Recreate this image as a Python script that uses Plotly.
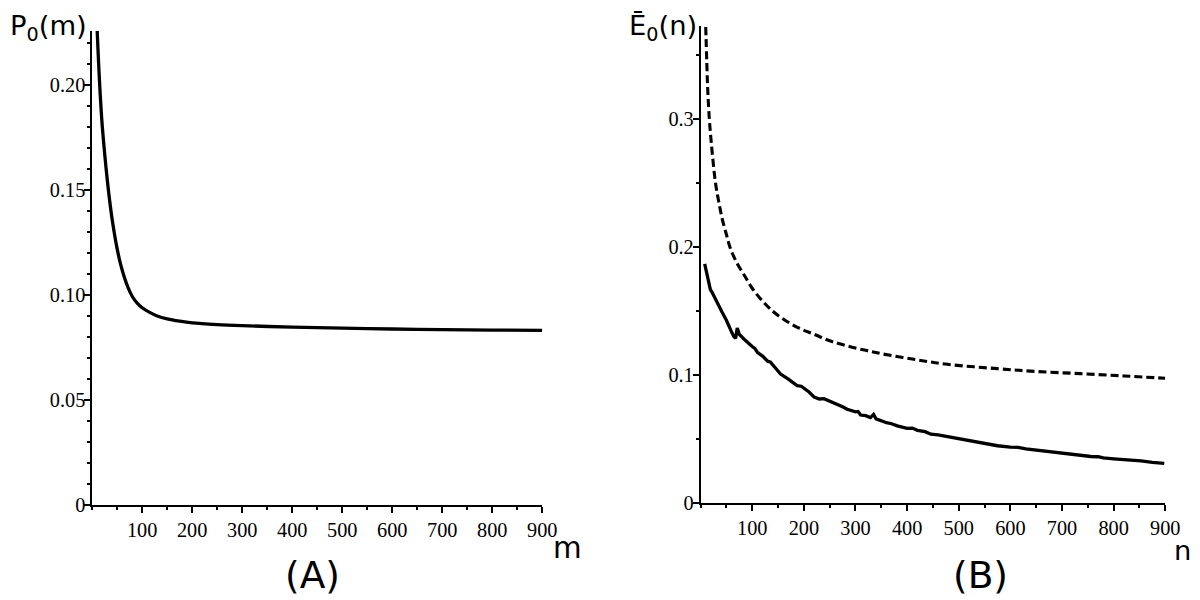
import plotly.graph_objects as go

# panel A: P0(m)
m_vals = [10, 12, 14, 16, 18, 20, 24, 28, 32, 36, 40, 45, 50, 56, 64, 72, 80, 90, 100,
          115, 130, 150, 175, 200, 250, 300, 400, 500, 600, 700, 800, 900]
p0_vals = [0.226, 0.215, 0.205, 0.196, 0.188, 0.181, 0.170, 0.160, 0.151, 0.143, 0.136,
           0.1285, 0.122, 0.1155, 0.1088, 0.1035, 0.0995, 0.0962, 0.0940, 0.0918, 0.0901,
           0.0887, 0.0876, 0.0868, 0.0860, 0.0855, 0.0848, 0.0843, 0.0839, 0.0836, 0.0834, 0.0833]

# panel B: dashed curve
n_dash = [10, 12, 14, 17, 20, 24, 29, 35, 42, 50, 57, 70, 85, 100, 120, 140, 160, 190, 220,
          250, 285, 320, 350, 413, 478, 575, 650, 736, 820, 900]
e_dash = [0.372, 0.345, 0.322, 0.300, 0.285, 0.268, 0.250, 0.236, 0.222, 0.210, 0.200, 0.188,
          0.178, 0.168, 0.158, 0.150, 0.144, 0.137, 0.132, 0.127, 0.1228, 0.1195, 0.1169,
          0.1125, 0.1086, 0.1052, 0.1030, 0.1013, 0.0995, 0.0977]

# panel B: solid (noisy) curve
n_solid = [8, 12, 16, 19, 22, 28, 35, 42, 50, 56, 61, 65, 68, 71, 75, 85, 95, 100, 105, 110,
           120, 130, 135, 140, 155, 170, 180, 187, 195, 200, 210, 220, 230, 239, 250, 265, 275,
           284, 300, 305, 310, 320, 329, 335, 340, 360, 370, 381, 400, 410, 420, 435, 446, 460,
           480, 495, 510, 540, 562, 575, 600, 615, 630, 659, 690, 705, 720, 756, 770, 780, 800,
           830, 853, 875, 898]
e_solid = [0.187, 0.180, 0.171, 0.167, 0.165, 0.160, 0.154, 0.149, 0.143, 0.137, 0.133, 0.130,
           0.129, 0.137, 0.132, 0.128, 0.124, 0.1225, 0.121, 0.118, 0.115, 0.111, 0.1105, 0.108,
           0.101, 0.097, 0.0945, 0.092, 0.0915, 0.090, 0.087, 0.083, 0.0815, 0.0818, 0.080, 0.077,
           0.0755, 0.0735, 0.0715, 0.0718, 0.069, 0.0685, 0.067, 0.0695, 0.066, 0.063, 0.0622,
           0.0605, 0.0585, 0.0588, 0.057, 0.056, 0.054, 0.0535, 0.052, 0.0508, 0.0496, 0.048,
           0.0462, 0.045, 0.044, 0.0438, 0.0425, 0.041, 0.0395, 0.0392, 0.038, 0.0366, 0.0364,
           0.0355, 0.0348, 0.034, 0.0332, 0.032, 0.0312]

x_ticks = [100, 200, 300, 400, 500, 600, 700, 800, 900]
ya_ticks = [0, 0.05, 0.10, 0.15, 0.20]
ya_text = ["0", "0.05", "0.10", "0.15", "0.20"]
yb_ticks = [0, 0.1, 0.2, 0.3]
yb_text = ["0", "0.1", "0.2", "0.3"]

# the page has an 8px body margin and gets shrunk a little in the snapshot (1216 -> 1200),
# so target pixel positions are mapped back into figure coordinates
W, H, OFF = 1200, 592, 8
K = 1216 / 1200


def fx(px):
    return (px * K - OFF) / W


def fy(py):
    return 1 - (py * K - OFF) / H


def fs(size):
    return round(size * K, 1)


fig = go.Figure()
fig.add_trace(go.Scatter(x=m_vals, y=p0_vals, mode="lines",
                         line=dict(color="black", width=3.3, shape="spline", smoothing=0.8),
                         xaxis="x", yaxis="y"))
fig.add_trace(go.Scatter(x=n_dash, y=e_dash, mode="lines",
                         line=dict(color="black", width=3.1, dash="8px,4px", shape="spline"),
                         xaxis="x2", yaxis="y2"))
fig.add_trace(go.Scatter(x=n_solid, y=e_solid, mode="lines", line=dict(color="black", width=3.3),
                         xaxis="x2", yaxis="y2"))

tickfont = dict(family="Liberation Serif", size=fs(20), color="black")
common = dict(showline=True, linecolor="black", linewidth=1.5, ticks="outside", tickcolor="black",
              tickwidth=1.5, ticklen=6, showgrid=False, zeroline=False, tickfont=tickfont,
              tickmode="array", fixedrange=True)


def minor(step):
    return dict(tick0=0, dtick=step, ticks="outside", ticklen=3, tickcolor="black", tickwidth=1.5)


fig.update_layout(
    width=W, height=H,
    margin=dict(l=0, r=0, t=0, b=0),
    paper_bgcolor="white", plot_bgcolor="white",
    showlegend=False,
    xaxis=dict(domain=[fx(92), fx(541.8)], range=[0, 900], tickvals=x_ticks, anchor="y",
               ticklabelstandoff=0, minor=minor(50), **common),
    yaxis=dict(domain=[fy(508), fy(31)], range=[0, 0.2257], tickvals=ya_ticks,
               ticktext=ya_text, anchor="x", ticklabelstandoff=-5, minor=minor(0.01), **common),
    xaxis2=dict(domain=[fx(700), fx(1164.4)], range=[0, 900], tickvals=x_ticks, anchor="y2",
                ticklabelstandoff=0, minor=minor(50), **common),
    yaxis2=dict(domain=[fy(506), fy(26)], range=[0, 0.3728], tickvals=yb_ticks,
                ticktext=yb_text, anchor="x2", ticklabelstandoff=-5, minor=minor(0.05), **common),
)

label_font = dict(family="DejaVu Sans", size=fs(27), color="black")
fig.add_annotation(text="P<sub>0</sub>(m)", xref="paper", yref="paper", x=0, y=1,
                   xanchor="left", yanchor="top", showarrow=False, font=label_font)
fig.add_annotation(text="Ē<sub>0</sub>(n)", xref="paper", yref="paper", x=fx(626), y=1,
                   xanchor="left", yanchor="top", showarrow=False, font=label_font)
fig.add_annotation(text="m", xref="paper", yref="paper", x=fx(567), y=fy(551),
                   xanchor="center", yanchor="middle", showarrow=False,
                   font=dict(family="DejaVu Sans", size=fs(29), color="black"))
fig.add_annotation(text="n", xref="paper", yref="paper", x=1, y=fy(553),
                   xanchor="right", yanchor="middle", showarrow=False,
                   font=dict(family="DejaVu Sans", size=fs(27), color="black"))
fig.add_annotation(text="(A)", xref="paper", yref="paper", x=fx(312), y=fy(578),
                   xanchor="center", yanchor="middle", showarrow=False,
                   font=dict(family="DejaVu Sans", size=fs(37), color="black"))
fig.add_annotation(text="(B)", xref="paper", yref="paper", x=fx(980), y=fy(578),
                   xanchor="center", yanchor="middle", showarrow=False,
                   font=dict(family="DejaVu Sans", size=fs(37), color="black"))

fig.write_html("out.html")
